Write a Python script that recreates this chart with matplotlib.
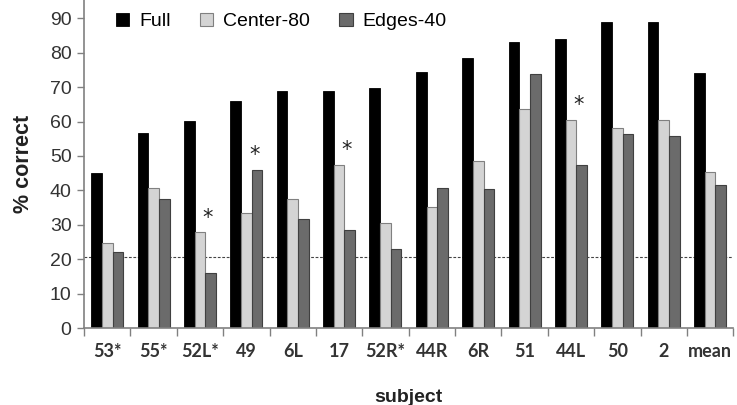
import numpy as np
import matplotlib.pyplot as plt

plt.rcParams['font.family'] = ['Liberation Sans', 'DejaVu Sans']

subjects = ['53*', '55*', '52L*', '49', '6L', '17', '52R*', '44R', '6R', '51', '44L', '50', '2', 'mean']
full = [45.0, 56.7, 60.2, 66.0, 69.0, 69.0, 69.8, 74.3, 78.5, 83.2, 84.0, 89.0, 89.0, 74.1]
center80 = [24.7, 40.7, 27.8, 33.5, 37.4, 47.5, 30.5, 35.2, 48.4, 63.6, 60.5, 58.2, 60.5, 45.2]
edges40 = [22.2, 37.4, 16.0, 46.0, 31.8, 28.6, 23.0, 40.8, 40.4, 73.8, 47.3, 56.5, 55.7, 41.7]
# asterisks: (group index, height of the bar they sit over)
stars = [(2, 27.8), (3, 46.0), (5, 47.5), (10, 60.5)]
chance = 20.5

fig = plt.figure(figsize=(7.37, 4.05), dpi=100)
ax = fig.add_axes([0.114, 0.19, 0.881, 0.81])

x = np.arange(len(subjects))
w = 0.23
ax.axhline(chance, color='#444444', lw=0.8, ls=(0, (2.5, 1.5)), zorder=1)
ax.bar(x - w, full, w, color='black', edgecolor='black', lw=0.6, label='Full', zorder=2)
ax.bar(x, center80, w, color='#d4d4d4', edgecolor='#808080', lw=0.8, label='Center-80', zorder=2)
ax.bar(x + w, edges40, w, color='#6b6b6b', edgecolor='#404040', lw=0.8, label='Edges-40', zorder=2)

for i, h in stars:
    ax.text(i + 0.17, h + 4.3, '*', ha='center', va='center', fontsize=15, color='#222222',
            family='DejaVu Sans')

ax.set_xlim(-0.5, len(subjects) - 0.5)
ax.set_ylim(0, 95.3)
ax.set_yticks(range(0, 91, 10))
ax.tick_params(axis='y', labelsize=14, colors='#808080', length=5, width=1, pad=4)
ax.tick_params(axis='y', labelcolor='#333333')

# subject labels at centres, tick marks at the group boundaries
ax.set_xticks(x)
ax.set_xticklabels(subjects, fontsize=13, fontweight='bold', color='#333333', family='Lato')
ax.tick_params(axis='x', length=0, pad=11)
ax.set_xticks(np.arange(len(subjects) + 1) - 0.5, minor=True)
ax.tick_params(axis='x', which='minor', length=6, width=1, color='#808080')

for s in ['top', 'right']:
    ax.spines[s].set_visible(False)
for s in ['left', 'bottom']:
    ax.spines[s].set_color('#808080')
    ax.spines[s].set_linewidth(1.2)

ax.set_xlabel('subject', fontsize=14, fontweight='bold', color='#222222', labelpad=21)
ax.set_ylabel('% correct', fontsize=15.5, fontweight='bold', color='#222222', labelpad=11)

ax.legend(loc='upper left', bbox_to_anchor=(0.022, 1.015), ncol=3, frameon=False, fontsize=14,
          handlelength=0.7, handleheight=0.7, columnspacing=1.5, handletextpad=0.5)

fig.savefig('out.png', dpi=100)
